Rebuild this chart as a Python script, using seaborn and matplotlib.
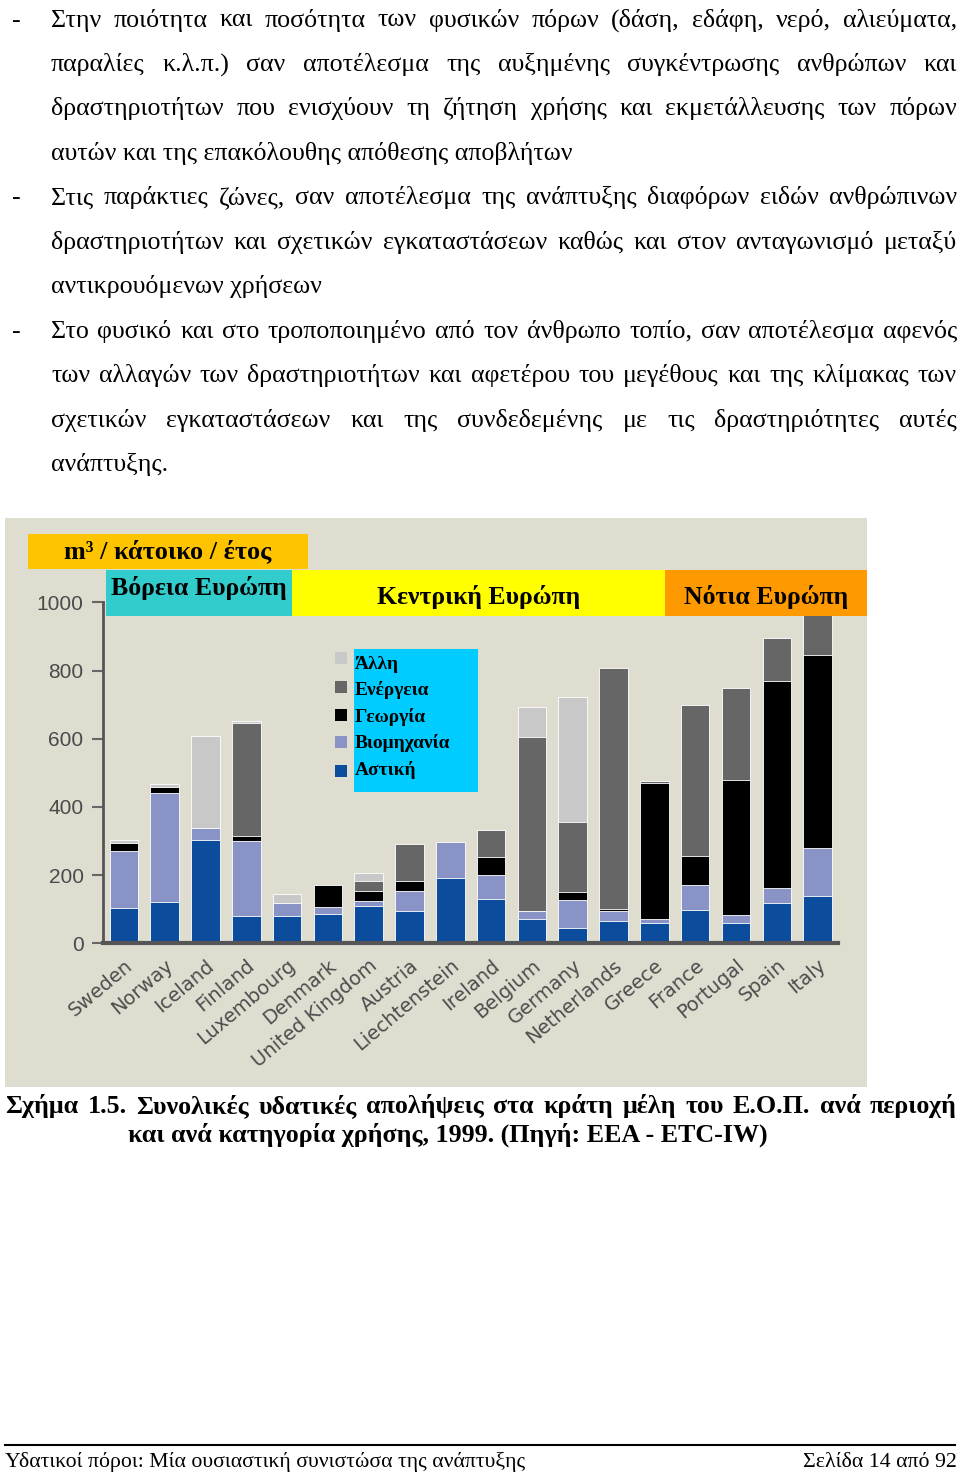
"""Water abstraction per capita by country and use, EEA 1999 (page reproduction)."""

import matplotlib

matplotlib.use("Agg")
import matplotlib.pyplot as plt
import numpy as np
import seaborn as sns
from matplotlib.lines import Line2D
from matplotlib.patches import Rectangle
from matplotlib.transforms import ScaledTranslation

W, H = 960, 1473
SERIF = ["Liberation Serif", "DejaVu Serif"]
SANS = ["Liberation Sans", "DejaVu Sans"]

countries = [
    "Sweden", "Norway", "Iceland", "Finland", "Luxembourg", "Denmark",
    "United Kingdom", "Austria", "Liechtenstein", "Ireland", "Belgium",
    "Germany", "Netherlands", "Greece", "France", "Portugal", "Spain", "Italy",
]
urban = [103, 122, 303, 81, 80, 85, 108, 95, 191, 130, 71, 44, 64, 59, 98, 59, 117, 139]
industry = [168, 318, 36, 219, 37, 20, 16, 58, 105, 70, 24, 83, 31, 12, 73, 24, 44, 140]
agriculture = [22, 19, 0, 15, 0, 66, 29, 31, 0, 54, 0, 22, 6, 398, 86, 396, 609, 565]
energy = [0, 0, 0, 330, 0, 0, 31, 106, 0, 78, 511, 208, 705, 8, 442, 269, 124, 130]
other = [10, 7, 269, 7, 27, 0, 21, 0, 0, 0, 88, 364, 0, 0, 0, 0, 0, 0]

use_labels = ["Αστική", "Βιομηχανία", "Γεωργία", "Ενέργεια", "Άλλη"]
use_colors = ["#0b4c9c", "#8a93c6", "#000000", "#666666", "#c8c8c8"]
y_ticks = [0, 200, 400, 600, 800, 1000]

regions = ["Βόρεια Ευρώπη", "Κεντρική Ευρώπη", "Νότια Ευρώπη"]
region_colors = ["#33cccc", "#ffff00", "#ff9900"]

body_lines = [
    ("-", "Στην ποιότητα και ποσότητα των φυσικών πόρων (δάση, εδάφη, νερό, αλιεύματα,", True),
    ("", "παραλίες κ.λ.π.) σαν αποτέλεσμα της αυξημένης συγκέντρωσης ανθρώπων και", True),
    ("", "δραστηριοτήτων που ενισχύουν τη ζήτηση χρήσης και εκμετάλλευσης των πόρων", True),
    ("", "αυτών και της επακόλουθης απόθεσης αποβλήτων", False),
    ("-", "Στις παράκτιες ζώνες, σαν αποτέλεσμα της ανάπτυξης διαφόρων ειδών ανθρώπινων", True),
    ("", "δραστηριοτήτων και σχετικών εγκαταστάσεων καθώς και στον ανταγωνισμό μεταξύ", True),
    ("", "αντικρουόμενων χρήσεων", False),
    ("-", "Στο φυσικό και στο τροποποιημένο από τον άνθρωπο τοπίο, σαν αποτέλεσμα αφενός", True),
    ("", "των αλλαγών των δραστηριοτήτων και αφετέρου του μεγέθους και της κλίμακας των", True),
    ("", "σχετικών εγκαταστάσεων και της συνδεδεμένης με τις δραστηριότητες αυτές", True),
    ("", "ανάπτυξης.", False),
]
caption_1 = "Σχήμα 1.5. Συνολικές υδατικές απολήψεις στα κράτη μέλη του Ε.Ο.Π. ανά περιοχή"
caption_2 = "και ανά κατηγορία χρήσης, 1999. (Πηγή: ΕΕΑ - ETC-IW)"
footer_left = "Υδατικοί πόροι: Μία ουσιαστική συνιστώσα της ανάπτυξης"
footer_right = "Σελίδα 14 από 92"

fig = plt.figure(figsize=(W / 100, H / 100), dpi=100)
fig.patch.set_facecolor("white")
renderer = fig.canvas.get_renderer()


def fx(x):
    return x / W


def fy(y):
    return 1 - y / H


def text_width(s, **kw):
    t = fig.text(0, 0, s, **kw)
    w = t.get_window_extent(renderer).width
    t.remove()
    return w


def fit_size(s, target, base=20, **kw):
    return base * target / text_width(s, fontsize=base, **kw)


def put_line(s, x0, y, x1=None, **kw):
    words = s.split()
    if x1 is None or len(words) < 2:
        fig.text(fx(x0), fy(y), s, va="baseline", **kw)
        return
    widths = [text_width(w, **kw) for w in words]
    gap = (x1 - x0 - sum(widths)) / (len(words) - 1)
    x = x0
    for w, wd in zip(words, widths):
        fig.text(fx(x), fy(y), w, va="baseline", **kw)
        x += wd + gap


def box(x0, y0, x1, y1, color, z=2):
    fig.add_artist(Rectangle((fx(x0), fy(y1)), fx(x1 - x0), (y1 - y0) / H,
                             transform=fig.transFigure, facecolor=color,
                             edgecolor="none", zorder=z))


# body text
body_size = fit_size(body_lines[3][1], 521, family=SERIF)
for i, (dash, line, justify) in enumerate(body_lines):
    base = 26.5 + 44.45 * i
    if dash:
        fig.text(fx(12), fy(base), dash, va="baseline", fontsize=body_size, family=SERIF)
    put_line(line, 51, base, 957 if justify else None, fontsize=body_size, family=SERIF)

# chart panel
box(5, 518, 867, 1087, "#dfddd0", z=-1)

ax = fig.add_axes([fx(103), fy(943.3), fx(838 - 103), (943.3 - 602.3) / H])
ax.set_facecolor("none")
stack = np.cumsum([urban, industry, agriculture, energy, other], axis=0)
for k in range(4, -1, -1):
    sns.barplot(x=countries, y=stack[k], color=use_colors[k], saturation=1,
                width=0.7, edgecolor="white", linewidth=0.6, ax=ax)
ax.set_xlim(-0.51, 17.5)
ax.set_ylim(0, 1000)
ax.set_xlabel("")
ax.set_ylabel("")
ax.set_yticks(y_ticks)
ax.set_yticklabels([str(v) for v in y_ticks], family=SANS, fontsize=15, color="#4a4a4a")
ax.set_xticks(range(len(countries)))
ax.set_xticklabels(countries, rotation=40, ha="right", rotation_mode="anchor",
                   family=["DejaVu Sans"], fontsize=14, color="#4d4d4d")
shift = ScaledTranslation(-0.04, 0, fig.dpi_scale_trans)
for lab in ax.get_xticklabels():
    lab.set_transform(lab.get_transform() + shift)
ax.tick_params(axis="x", length=0, pad=9)
ax.tick_params(axis="y", direction="out", length=8, width=1.5, color="#666666", pad=6)
sns.despine(ax=ax)
ax.spines["left"].set_color("#555555")
ax.spines["left"].set_linewidth(2)
ax.spines["bottom"].set_color("#555555")
ax.spines["bottom"].set_linewidth(3)

# unit and region headers
box(28, 534, 308, 569, "#ffc400")
hdr = fit_size("m³ / κάτοικο / έτος", 207, family=SERIF, weight="bold")
fig.text(fx(168), fy(558), "m³ / κάτοικο / έτος", ha="center", va="baseline",
         fontsize=hdr, family=SERIF, weight="bold", zorder=3)
region_spans = [(106, 292), (292, 665), (665, 867)]
region_base = [595, 604, 604]
reg_size = fit_size(regions[0], 175, family=SERIF, weight="bold")
for name, color, (x0, x1), yb in zip(regions, region_colors, region_spans, region_base):
    box(x0, 570, x1, 616, color)
    fig.text(fx((x0 + x1) / 2), fy(yb), name, ha="center", va="baseline",
             fontsize=reg_size, family=SERIF, weight="bold", zorder=3)

# legend
box(354, 649, 478, 792, "#00ccff")
leg_size = fit_size("Βιομηχανία", 95, family=SERIF, weight="bold")
leg_centers = [657.5, 687, 714.5, 742, 771]
leg_base = [669, 695, 722, 748, 775]
for k, (yc, yb) in enumerate(zip(leg_centers, leg_base)):
    j = 4 - k
    box(335, yc - 6, 347, yc + 6, use_colors[j], z=3)
    fig.text(fx(355), fy(yb), use_labels[j], va="baseline", fontsize=leg_size,
             family=SERIF, weight="bold", zorder=3)

# caption
cap_size = fit_size(caption_2, 637, family=SERIF, weight="bold")
put_line(caption_1, 5, 1113, 957, fontsize=cap_size, family=SERIF, weight="bold")
put_line(caption_2, 128, 1142, fontsize=cap_size, family=SERIF, weight="bold")

# footer
fig.add_artist(Line2D([fx(5), fx(955)], [fy(1445), fy(1445)], color="black",
                      linewidth=1.5, transform=fig.transFigure))
foot_size = fit_size(footer_left, 516, family=SERIF)
fig.text(fx(5), fy(1467), footer_left, va="baseline", fontsize=foot_size, family=SERIF)
fig.text(fx(957), fy(1467), footer_right, ha="right", va="baseline",
         fontsize=foot_size, family=SERIF)

fig.savefig("out.png", dpi=100)
